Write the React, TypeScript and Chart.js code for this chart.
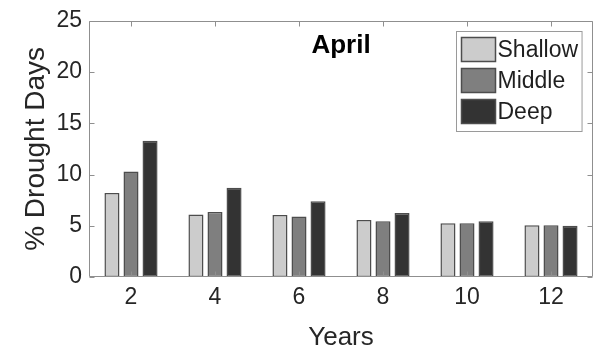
import React, { useEffect, useRef } from "react";
import { Chart, registerables } from "chart.js";

Chart.register(...registerables);

const years = ["2", "4", "6", "8", "10", "12"];
const shallow = [8.2, 6.1, 6.05, 5.55, 5.25, 5.05];
const middle = [10.3, 6.35, 5.9, 5.45, 5.25, 5.05];
const deep = [13.3, 8.7, 7.4, 6.25, 5.45, 5.0];
const seriesNames = ["Shallow", "Middle", "Deep"];
const seriesColors = ["#cccccc", "#7f7f7f", "#333333"];
const chartTitle = "April";
const xTitle = "Years";
const yTitle = "% Drought Days";

const FONT = "'Liberation Sans', Arial, Helvetica, sans-serif";

const framePlugin = {
  id: "matlabFrame",
  afterDatasetsDraw(chart: any) {
    const { ctx, chartArea } = chart;
    const { left, right, top, bottom } = chartArea;
    const xs = chart.scales.x;
    const ys = chart.scales.y;
    const L = Math.round(left) + 0.5;
    const R = Math.round(right) - 0.5;
    const T = Math.round(top) + 0.5;
    const B = Math.round(bottom) - 0.5;
    ctx.save();
    ctx.strokeStyle = "#8f8f8f";
    ctx.lineWidth = 1;
    ctx.beginPath();
    ctx.rect(L, T, R - L, B - T);
    const tl = 5;
    xs.ticks.forEach((_t: any, i: number) => {
      const px = Math.round(xs.getPixelForTick(i)) + 0.5;
      ctx.moveTo(px, T);
      ctx.lineTo(px, T + tl);
      ctx.moveTo(px, B);
      ctx.lineTo(px, B - tl);
    });
    ys.ticks.forEach((_t: any, i: number) => {
      const py = Math.round(ys.getPixelForTick(i)) + 0.5;
      ctx.moveTo(L, py);
      ctx.lineTo(L + tl, py);
      ctx.moveTo(R, py);
      ctx.lineTo(R - tl, py);
    });
    ctx.stroke();

    // title inside plot
    ctx.fillStyle = "#000000";
    ctx.font = `bold 26px ${FONT}`;
    ctx.textAlign = "center";
    ctx.textBaseline = "middle";
    ctx.fillText(chartTitle, (left + right) / 2, top + 25);

    // legend
    const dsets = chart.data.datasets;
    ctx.font = `23px ${FONT}`;
    let maxW = 0;
    dsets.forEach((d: any) => {
      maxW = Math.max(maxW, ctx.measureText(d.label).width);
    });
    const sw = 34;
    const sh = 24;
    const pitch = 31;
    const boxW = 5 + sw + 2 + maxW + 4;
    const boxH = 6 + pitch * dsets.length + 1;
    const bx = Math.round(right - 11 - boxW) + 0.5;
    const by = Math.round(top + 10) + 0.5;
    ctx.fillStyle = "#ffffff";
    ctx.fillRect(bx, by, boxW, boxH);
    ctx.strokeStyle = "#9a9a9a";
    ctx.lineWidth = 1;
    ctx.strokeRect(bx, by, boxW, boxH);
    dsets.forEach((d: any, i: number) => {
      const sx = bx + 5;
      const sy = by + 6 + i * pitch;
      ctx.fillStyle = d.backgroundColor;
      ctx.fillRect(sx, sy, sw, sh);
      ctx.strokeStyle = "#4d4d4d";
      ctx.lineWidth = 1.5;
      ctx.strokeRect(sx, sy, sw, sh);
      ctx.fillStyle = "#1f1f1f";
      ctx.textAlign = "left";
      ctx.textBaseline = "middle";
      ctx.fillText(d.label, sx + sw + 2, sy + sh / 2 + 1);
    });
    ctx.restore();
  },
};

export default function App() {
  const ref = useRef<HTMLCanvasElement | null>(null);
  useEffect(() => {
    if (!ref.current) return;
    const values = [shallow, middle, deep];
    const chart = new Chart(ref.current, {
      type: "bar",
      data: {
        labels: years,
        datasets: values.map((v, i) => ({
          label: seriesNames[i],
          data: v,
          backgroundColor: seriesColors[i],
          borderColor: "#4d4d4d",
          borderWidth: 1.5,
          borderSkipped: false,
          categoryPercentage: 0.68,
          barPercentage: 0.79,
        })),
      },
      options: {
        animation: false,
        responsive: false,
        maintainAspectRatio: false,
        layout: { padding: { top: 18, right: 6, left: 0, bottom: 0 } },
        plugins: {
          legend: { display: false },
          title: { display: false },
          tooltip: { enabled: false },
        },
        scales: {
          x: {
            type: "category",
            offset: true,
            grid: { display: false, drawTicks: false },
            border: { display: false },
            ticks: {
              padding: 7,
              color: "#262626",
              font: { family: FONT, size: 23 },
              maxRotation: 0,
            },
            title: {
              display: true,
              text: xTitle,
              color: "#262626",
              font: { family: FONT, size: 26 },
              padding: { top: 0, bottom: -2 },
            },
            afterFit: (s: any) => {
              s.height = 74;
            },
          },
          y: {
            min: 0,
            max: 25,
            grid: { display: false, drawTicks: false },
            border: { display: false },
            ticks: {
              stepSize: 5,
              padding: 7,
              color: "#262626",
              font: { family: FONT, size: 23 },
            },
            title: {
              display: true,
              text: yTitle,
              color: "#262626",
              font: { family: FONT, size: 28 },
              padding: { top: 19, bottom: 0 },
            },
            afterFit: (s: any) => {
              s.width = 89;
            },
          },
        },
      },
      plugins: [framePlugin],
    } as any);
    return () => chart.destroy();
  }, []);
  return (
    <div style={{ position: "absolute", left: 0, top: 0, width: 599, height: 351, background: "#fff" }}>
      <canvas ref={ref} width={599} height={351} style={{ display: "block" }} />
    </div>
  );
}
